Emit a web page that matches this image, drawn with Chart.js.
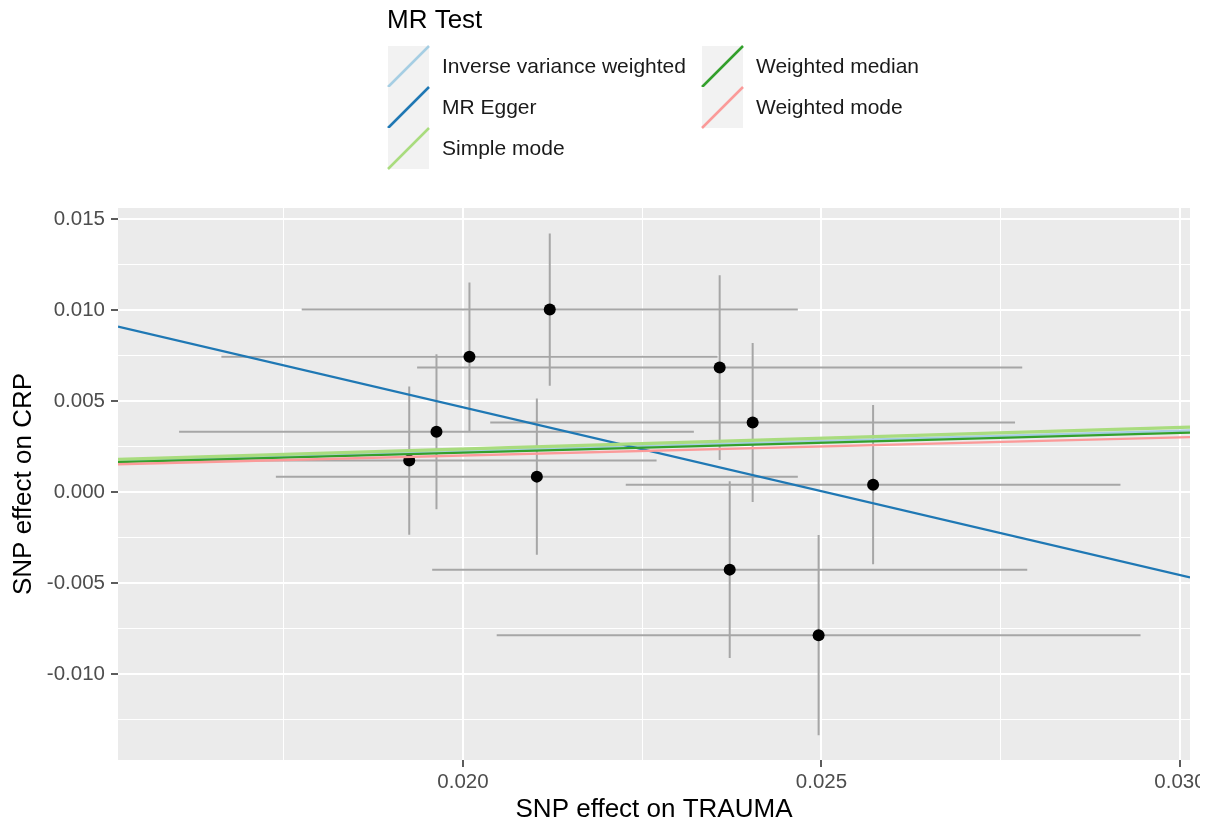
<!DOCTYPE html>
<html><head><meta charset="utf-8">
<script src="https://cdn.jsdelivr.net/npm/chart.js@4.4.1/dist/chart.umd.min.js"></script>
<style>html,body{margin:0;padding:0;background:#fff;} #wrap{width:1200px;height:825px;position:relative;}</style>
</head><body><div id="wrap"><canvas id="c"></canvas></div>
<script>
// SNP-level estimates (exposure = TRAUMA, outcome = CRP)
const snpX    = [0.02121, 0.02009, 0.02358, 0.02404, 0.01963, 0.01925, 0.02103, 0.02572, 0.02372, 0.02496];
const snpY    = [0.01002, 0.00743, 0.00683, 0.00381, 0.00331, 0.00172, 0.00084, 0.00040, -0.00427, -0.00787];
const snpXErr = [0.00346, 0.00346, 0.00422, 0.00366, 0.00359, 0.00345, 0.00364, 0.00345, 0.00415, 0.00449];
const snpYErr = [0.00418, 0.00407, 0.00508, 0.00437, 0.00426, 0.00407, 0.00429, 0.00437, 0.00486, 0.00550];

// MR methods (regression lines)
const methodNames      = ['Inverse variance weighted', 'MR Egger', 'Simple mode', 'Weighted median', 'Weighted mode'];
const methodIntercepts = [0, 0.02309, 0, 0, 0];
const methodSlopes     = [0.112, -0.922, 0.118, 0.108, 0.100];
const methodColors     = ['#A6CEE3', '#1F78B4', '#A9DC7E', '#33A02C', '#FB9A99'];

// Axis ticks
const xMajorTicks = [0.020, 0.025, 0.030];
const xTickLabels = ['0.020', '0.025', '0.030'];
const xMinorTicks = [0.0175, 0.0225, 0.0275];
const yMajorTicks = [-0.010, -0.005, 0.000, 0.005, 0.010, 0.015];
const yTickLabels = ['-0.010', '-0.005', '0.000', '0.005', '0.010', '0.015'];
const yMinorTicks = [-0.0125, -0.0075, -0.0025, 0.0025, 0.0075, 0.0125];
const xLimits = [0.015188, 0.03014];
const yLimits = [-0.01473, 0.0156];

function buildTicks(majors, labels, minors) {
  const t = majors.map((v, i) => ({value: v, txt: labels[i], isMinor: false}));
  minors.forEach(v => t.push({value: v, txt: '', isMinor: true}));
  t.sort((a, b) => a.value - b.value);
  return t;
}

// error-bar segments (broken by null gaps)
const errData = [];
snpX.forEach((x, i) => {
  const y = snpY[i];
  errData.push({x: x - snpXErr[i], y: y}, {x: x + snpXErr[i], y: y}, {x: x, y: null});
  errData.push({x: x, y: y - snpYErr[i]}, {x: x, y: y + snpYErr[i]}, {x: x, y: null});
});

const lineWidths = [2.3, 2.3, 3.2, 2.3, 2.3];

const datasets = [];
datasets.push({
  label: 'errors', data: errData, showLine: true, spanGaps: false,
  borderColor: '#A6A6A6', borderWidth: 2, pointRadius: 0, order: 20
});
datasets.push({
  label: 'SNPs', data: snpX.map((x, i) => ({x: x, y: snpY[i]})), showLine: false,
  pointRadius: 6, pointBackgroundColor: '#000', pointBorderWidth: 0, order: 15
});
methodNames.forEach((name, i) => {
  datasets.push({
    label: name,
    data: xLimits.map(x => ({x: x, y: methodIntercepts[i] + methodSlopes[i] * x})),
    showLine: true, borderColor: methodColors[i], borderWidth: lineWidths[i], pointRadius: 0,
    order: 10 - i
  });
});

const panelBg = {
  id: 'panelBg',
  beforeDraw(chart) {
    const a = chart.chartArea, ctx = chart.ctx;
    ctx.save(); ctx.fillStyle = '#EBEBEB';
    ctx.fillRect(a.left, a.top, a.right - a.left, a.bottom - a.top);
    ctx.restore();
  }
};

const ggLegend = {
  id: 'ggLegend',
  afterDraw(chart) {
    const ctx = chart.ctx;
    ctx.save();
    ctx.fillStyle = '#000';
    ctx.font = '26px "Liberation Sans", Arial, sans-serif';
    ctx.textBaseline = 'middle'; ctx.textAlign = 'left';
    ctx.fillText('MR Test', 387, 21);
    const colX = [388, 702], rowY = [46, 87, 128], kw = 41, kh = 41;
    ctx.font = '21px "Liberation Sans", Arial, sans-serif';
    methodNames.forEach((name, i) => {
      const c = i < 3 ? 0 : 1, r = i < 3 ? i : i - 3;
      const kx = colX[c], ky = rowY[r];
      ctx.fillStyle = '#F2F2F2';
      ctx.fillRect(kx, ky, kw, kh);
      ctx.strokeStyle = methodColors[i]; ctx.lineWidth = 2.5; ctx.lineCap = 'butt';
      ctx.beginPath(); ctx.moveTo(kx, ky + kh); ctx.lineTo(kx + kw, ky); ctx.stroke();
      ctx.fillStyle = '#1A1A1A';
      ctx.fillText(name, kx + 54, ky + kh / 2 + 0.5);
    });
    ctx.restore();
  }
};

Chart.defaults.font.family = '"Liberation Sans", Arial, sans-serif';

new Chart(document.getElementById('c'), {
  type: 'scatter',
  data: {datasets: datasets},
  plugins: [panelBg, ggLegend],
  options: {
    responsive: true, maintainAspectRatio: false, animation: false, devicePixelRatio: 1,
    events: [],
    layout: {padding: {top: 208, right: 10, left: 0, bottom: 0}},
    plugins: {legend: {display: false}, tooltip: {enabled: false}},
    scales: {
      x: {
        type: 'linear', min: xLimits[0], max: xLimits[1],
        afterBuildTicks: s => { s.ticks = buildTicks(xMajorTicks, xTickLabels, xMinorTicks); },
        afterFit: s => { s.height = 65; s.paddingLeft = 0; s.paddingRight = 0; },
        border: {display: false},
        grid: {
          color: '#FFFFFF',
          lineWidth: c => (c.tick && c.tick.isMinor) ? 1 : 2,
          tickColor: c => (c.tick && c.tick.isMinor) ? 'rgba(0,0,0,0)' : '#333333',
          tickLength: 7, tickWidth: 1.6
        },
        ticks: {
          autoSkip: false, maxRotation: 0, padding: 3, color: '#4D4D4D',
          font: {size: 20.5},
          callback: (v, i, t) => t[i].txt
        },
        title: {display: true, text: 'SNP effect on TRAUMA', color: '#000', font: {size: 26}, padding: {top: 0, bottom: 0}}
      },
      y: {
        type: 'linear', min: yLimits[0], max: yLimits[1],
        afterBuildTicks: s => { s.ticks = buildTicks(yMajorTicks, yTickLabels, yMinorTicks); },
        afterFit: s => { s.width = 118; s.paddingTop = 0; s.paddingBottom = 0; },
        border: {display: false},
        grid: {
          color: '#FFFFFF',
          lineWidth: c => (c.tick && c.tick.isMinor) ? 1 : 2,
          tickColor: c => (c.tick && c.tick.isMinor) ? 'rgba(0,0,0,0)' : '#333333',
          tickLength: 7, tickWidth: 1.6
        },
        ticks: {
          autoSkip: false, padding: 6, color: '#4D4D4D',
          font: {size: 20.5},
          callback: (v, i, t) => t[i].txt
        },
        title: {display: true, text: 'SNP effect on CRP', color: '#000', font: {size: 26}, padding: {top: 8, bottom: 0}}
      }
    }
  }
});
</script>
</body></html>
